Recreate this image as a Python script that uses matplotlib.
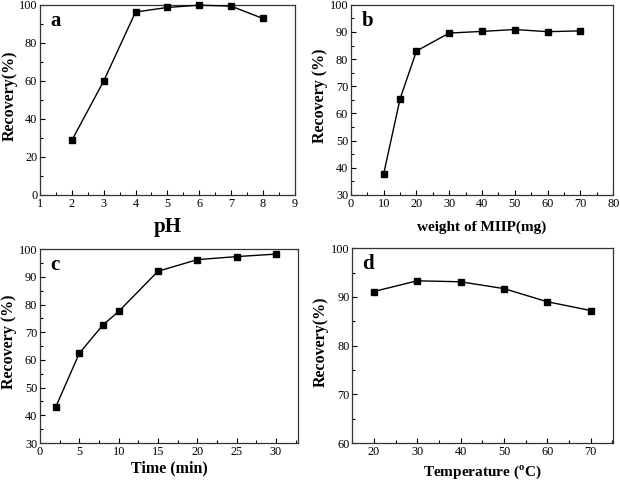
import matplotlib
matplotlib.use('Agg')
import matplotlib.pyplot as plt
from matplotlib.ticker import MultipleLocator

plt.rcParams['font.family'] = ['Liberation Serif', 'DejaVu Serif']
plt.rcParams['mathtext.fontset'] = 'custom'
plt.rcParams['mathtext.rm'] = 'Liberation Serif'
plt.rcParams['mathtext.bf'] = 'Liberation Serif:bold'

# panel a: pH
ph = [2, 3, 4, 5, 6, 7, 8]
rec_ph = [28.7, 59.9, 96.2, 98.6, 99.8, 99.3, 92.8]

# panel b: weight of MIIP
weight = [10, 15, 20, 30, 40, 50, 60, 70]
rec_weight = [37.8, 65.4, 83.0, 89.6, 90.2, 90.9, 90.1, 90.4]

# panel c: time
time_min = [2, 5, 8, 10, 15, 20, 25, 30]
rec_time = [43.0, 62.4, 72.6, 77.5, 92.0, 96.2, 97.3, 98.2]

# panel d: temperature
temp = [20, 30, 40, 50, 60, 70]
rec_temp = [91.1, 93.3, 93.1, 91.7, 89.0, 87.2]

fig = plt.figure(figsize=(6.2, 4.8), dpi=100)

panels = [
    # rect, x, y, letter, xlabel, ylabel, xlim, ylim, xmaj, xmin, ymaj, ymin, xlabel size, xlabel pad
    ([0.0645, 0.594, 0.411, 0.396], ph, rec_ph, 'a', 'pH', 'Recovery(%)',
     (1, 9), (0, 100), 1, 0.5, 20, 10, 15, 5),
    ([0.566, 0.594, 0.423, 0.396], weight, rec_weight, 'b', 'weight of MIIP(mg)', 'Recovery (%)',
     (0, 80), (30, 100), 10, 5, 10, 5, 11, 8),
    ([0.0645, 0.077, 0.416, 0.404], time_min, rec_time, 'c', 'Time (min)', 'Recovery (%)',
     (0, 32.8), (30, 100), 5, 2.5, 10, 5, 11.5, 2),
    ([0.568, 0.077, 0.421, 0.406], temp, rec_temp, 'd', r'Temperature ($^\mathbf{o}$C)', 'Recovery(%)',
     (15, 75.2), (60, 100), 10, 5, 10, 5, 11, 4),
]

for rect, x, y, letter, xl, yl, xlim, ylim, xmaj, xmin, ymaj, ymin, xls, xlp in panels:
    ax = fig.add_axes(rect)
    ax.plot(x, y, '-s', color='black', linewidth=1.0, markersize=4.8, clip_on=False, zorder=3)
    ax.set_xlim(*xlim)
    ax.set_ylim(*ylim)
    ax.xaxis.set_major_locator(MultipleLocator(xmaj))
    ax.xaxis.set_minor_locator(MultipleLocator(xmin))
    ax.yaxis.set_major_locator(MultipleLocator(ymaj))
    ax.yaxis.set_minor_locator(MultipleLocator(ymin))
    ax.tick_params(which='both', direction='in', labelsize=8.8, pad=2)
    ax.tick_params(which='major', length=3.5, width=0.8)
    ax.tick_params(which='minor', length=2, width=0.8)
    for s in ax.spines.values():
        s.set_color('#333333')
        s.set_linewidth(0.9)
    ax.set_xlabel(xl, fontsize=xls, fontweight='bold', labelpad=xlp)
    ax.set_ylabel(yl, fontsize=11.5, fontweight='bold')
    ax.yaxis.set_label_coords(-0.088, 0.52)
    ax.text(0.04, 0.97, letter, transform=ax.transAxes, fontsize=15,
            fontweight='bold', va='top', ha='left')

fig.savefig('out.png', dpi=100, facecolor='white')
